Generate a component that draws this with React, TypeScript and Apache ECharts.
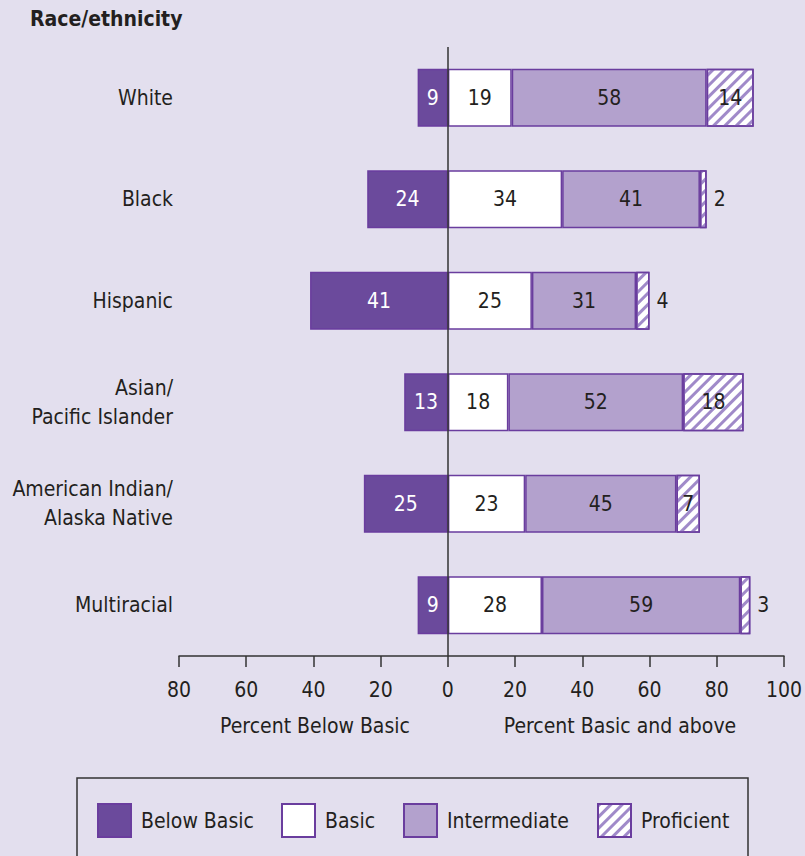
import React, { useEffect, useRef } from "react";
import * as echarts from "echarts";

const categories = [
  "White",
  "Black",
  "Hispanic",
  "Asian/\nPacific Islander",
  "American Indian/\nAlaska Native",
  "Multiracial",
];
const belowBasic = [9, 24, 41, 13, 25, 9];
const basic = [19, 34, 25, 18, 23, 28];
const intermediate = [58, 41, 31, 52, 45, 59];
const proficient = [14, 2, 4, 18, 7, 3];
const seriesNames = ["Below Basic", "Basic", "Intermediate", "Proficient"];

const FONT = "'Liberation Sans Narrow', 'DejaVu Sans Condensed', 'Roboto Condensed', sans-serif";
const BG = "#e3dfee";
const DARK = "#6b4a9c";
const LIGHT = "#b3a1cd";
const EDGE = "#6a3d9e";
const TEXT = "#231f20";

export default function App() {
  const ref = useRef<HTMLDivElement>(null);
  useEffect(() => {
    document.body.style.margin = "0";
    const chart = echarts.init(ref.current!, null, { renderer: "svg" });
    const baseBar = {
      type: "bar",
      stack: "total",
      barWidth: 58,
      itemStyle: { borderColor: EDGE, borderWidth: 1.5 },
      label: {
        show: true,
        position: "inside",
        fontFamily: FONT,
        fontSize: 21,
        color: TEXT,
      },
    };
    const option: any = {
      animation: false,
      backgroundColor: BG,
      textStyle: { fontFamily: FONT },
      grid: { left: 179, right: 19, top: 47, bottom: 200, containLabel: false },
      xAxis: {
        type: "value",
        min: -80,
        max: 100,
        interval: 20,
        splitLine: { show: false },
        axisLine: { show: true, lineStyle: { color: "#333", width: 1.5 } },
        axisTick: { show: true, length: 11, lineStyle: { color: "#333", width: 1.5 } },
        axisLabel: {
          margin: 23,
          fontFamily: FONT,
          fontSize: 21,
          color: TEXT,
          formatter: (v: number) => String(Math.abs(v)),
        },
      },
      yAxis: {
        type: "category",
        data: categories,
        inverse: true,
        axisLine: { show: false },
        axisTick: { show: false },
        axisLabel: {
          margin: 6,
          fontFamily: FONT,
          fontSize: 21,
          lineHeight: 29,
          color: TEXT,
          align: "right",
        },
      },
      legend: seriesNames.map((n, i) => ({
        data: [n],
        icon: "rect",
        left: [97, 281, 403, 597][i],
        top: 803,
        padding: 0,
        itemWidth: 33,
        itemHeight: 33,
        itemGap: 10,
        textStyle: { fontFamily: FONT, fontSize: 21, color: TEXT, padding: [0, 0, 0, 5] },
        selectedMode: false,
      })),
      graphic: [
        {
          type: "text",
          left: 30,
          top: 8,
          style: { text: "Race/ethnicity", font: `bold 21px ${FONT}`, fill: TEXT },
        },
        {
          type: "text",
          x: 315,
          y: 726,
          style: {
            text: "Percent Below Basic",
            font: `21px ${FONT}`,
            fill: TEXT,
            align: "center",
            verticalAlign: "middle",
          },
        },
        {
          type: "text",
          x: 620,
          y: 726,
          style: {
            text: "Percent Basic and above",
            font: `21px ${FONT}`,
            fill: TEXT,
            align: "center",
            verticalAlign: "middle",
          },
        },
        {
          type: "rect",
          shape: { x: 77, y: 778, width: 671, height: 120 },
          style: { fill: "none", stroke: "#333", lineWidth: 1.5 },
          silent: true,
        },
      ],
      series: [
        {
          ...baseBar,
          name: "Below Basic",
          data: belowBasic.map((v) => -v),
          itemStyle: { ...baseBar.itemStyle, color: DARK },
          label: { ...baseBar.label, color: "#ffffff", formatter: (p: any) => String(Math.abs(p.value)) },
          markLine: {
            silent: true,
            symbol: "none",
            label: { show: false },
            lineStyle: { color: "#333", width: 1.5, type: "solid" },
            data: [{ xAxis: 0 }],
          },
        },
        {
          ...baseBar,
          name: "Basic",
          data: basic,
          itemStyle: { ...baseBar.itemStyle, color: "#ffffff" },
        },
        {
          ...baseBar,
          name: "Intermediate",
          data: intermediate,
          itemStyle: { ...baseBar.itemStyle, color: LIGHT },
        },
        {
          ...baseBar,
          name: "Proficient",
          data: proficient.map((v) =>
            v < 5 ? { value: v, label: { position: "right", distance: 7 } } : v
          ),
          itemStyle: {
            ...baseBar.itemStyle,
            color: "#ffffff",
            decal: {
              symbol: "rect",
              symbolSize: 1,
              color: "#a08ac9",
              dashArrayX: [1, 0],
              dashArrayY: [3, 5],
              rotation: -Math.PI / 4,
            },
          },
        },
      ],
    };
    chart.setOption(option);
    return () => chart.dispose();
  }, []);
  return <div ref={ref} style={{ width: 805, height: 856, background: BG }} />;
}
